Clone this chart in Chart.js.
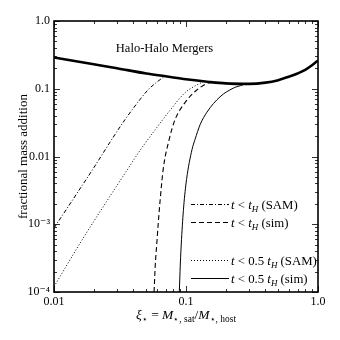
<!DOCTYPE html>
<html>
<head>
<meta charset="utf-8">
<script src="https://cdn.jsdelivr.net/npm/chart.js@4.4.1/dist/chart.umd.min.js"></script>
<style>
  html, body { margin: 0; background: #fff; }
</style>
</head>
<body>
<canvas id="grafico" width="340" height="340"></canvas>
<script>
// valores
const haloX = [0.01, 0.02, 0.03, 0.05, 0.07, 0.1, 0.15, 0.2, 0.3, 0.4, 0.5, 0.6, 0.7, 0.8, 0.9, 1.0];
const haloY = [0.29, 0.23, 0.201, 0.168, 0.153, 0.138, 0.126, 0.12, 0.118, 0.123, 0.134, 0.15, 0.168, 0.19, 0.222, 0.262];

const samTHX = [0.01, 0.015, 0.02, 0.027, 0.0345, 0.045, 0.052, 0.06, 0.068];
const samTHY = [0.00088, 0.0029, 0.0068, 0.0171, 0.035, 0.07, 0.098, 0.125, 0.15];

const simTHX = [0.0573, 0.0585, 0.06, 0.062, 0.0636, 0.0672, 0.0745, 0.0826, 0.098, 0.12, 0.152, 0.17];
const simTHY = [0.0001, 0.00025, 0.0005, 0.0012, 0.0022, 0.0065, 0.0178, 0.035, 0.062, 0.095, 0.123, 0.125];

const samHalfX = [0.01, 0.0166, 0.025, 0.035, 0.045, 0.0603, 0.075, 0.098, 0.115, 0.135];
const samHalfY = [0.00012, 0.00062, 0.00216, 0.0059, 0.0124, 0.027, 0.047, 0.087, 0.108, 0.127];

const simHalfX = [0.089, 0.0905, 0.0925, 0.096, 0.101, 0.111, 0.117, 0.128, 0.144, 0.181, 0.228, 0.27];
const simHalfY = [0.0001, 0.00025, 0.0006, 0.0018, 0.0046, 0.0126, 0.0178, 0.0296, 0.045, 0.076, 0.102, 0.114];

const xMajor = [0.01, 0.1, 1];
const xLabels = ['0.01', '0.1', '1.0'];
const yMajor = [0.0001, 0.001, 0.01, 0.1, 1];
const yLabels = ['10\u207B\u2074', '10\u207B\u00B3', '0.01', '0.1', '1.0'];

const serif = '"Liberation Serif", "DejaVu Serif", serif';

function pontos(xs, ys) {
  return xs.map((x, i) => ({ x: x, y: ys[i] }));
}

function ticksLog(lo, hi) {
  let t = [];
  for (let d = lo; d < hi * 0.999; d *= 10) {
    for (let k = 1; k < 10; k++) t.push(+(d * k).toPrecision(3));
  }
  t.push(hi);
  return t;
}

function ehMaior(v, lista) {
  return lista.some(m => Math.abs(Math.log10(v) - Math.log10(m)) < 1e-6);
}

// texto com itálico e subscrito
function textoRico(ctx, partes, x, y, tam) {
  let cx = x;
  partes.forEach(p => {
    const s = p.sub ? tam * 0.7 : tam;
    ctx.font = (p.it ? 'italic ' : '') + s + 'px ' + serif;
    ctx.fillText(p.t, cx, y + (p.sub ? tam * 0.25 : 0));
    cx += ctx.measureText(p.t).width;
  });
  return cx - x;
}

function larguraRica(ctx, partes, tam) {
  let w = 0;
  partes.forEach(p => {
    const s = p.sub ? tam * 0.7 : tam;
    ctx.font = (p.it ? 'italic ' : '') + s + 'px ' + serif;
    w += ctx.measureText(p.t).width;
  });
  return w;
}

const datasets = [
  { label: 'Halo-Halo', data: pontos(haloX, haloY), borderColor: '#000', borderWidth: 2.6 },
  { label: 't < tH (SAM)', data: pontos(samTHX, samTHY), borderColor: '#000', borderWidth: 1, borderDash: [4, 2, 1, 2] },
  { label: 't < tH (sim)', data: pontos(simTHX, simTHY), borderColor: '#000', borderWidth: 1.1, borderDash: [5, 3] },
  { label: 't < 0.5 tH (SAM)', data: pontos(samHalfX, samHalfY), borderColor: '#000', borderWidth: 1, borderDash: [1, 2] },
  { label: 't < 0.5 tH (sim)', data: pontos(simHalfX, simHalfY), borderColor: '#000', borderWidth: 1 }
];

const legendaItens = [
  { ds: 1, y: 204, partes: [{ t: 't', it: true }, { t: ' < ' }, { t: 't', it: true }, { t: 'H', it: true, sub: true }, { t: ' (SAM)' }] },
  { ds: 2, y: 222, partes: [{ t: 't', it: true }, { t: ' < ' }, { t: 't', it: true }, { t: 'H', it: true, sub: true }, { t: ' (sim)' }] },
  { ds: 3, y: 260, partes: [{ t: 't', it: true }, { t: ' < 0.5 ' }, { t: 't', it: true }, { t: 'H', it: true, sub: true }, { t: ' (SAM)' }] },
  { ds: 4, y: 278, partes: [{ t: 't', it: true }, { t: ' < 0.5 ' }, { t: 't', it: true }, { t: 'H', it: true, sub: true }, { t: ' (sim)' }] }
];

const extras = {
  id: 'extras',
  afterDatasetsDraw(chart) {
    const ctx = chart.ctx;
    const a = chart.chartArea;
    const sx = chart.scales.x, sy = chart.scales.y;
    ctx.save();
    ctx.strokeStyle = '#000';
    ctx.fillStyle = '#000';

    // ticks para dentro nos quatro lados
    ctx.lineWidth = 0.8;
    sx.ticks.forEach(t => {
      const px = Math.round(sx.getPixelForValue(t.value)) + 0.5;
      const L = ehMaior(t.value, xMajor) ? 6 : 3;
      ctx.beginPath();
      ctx.moveTo(px, a.bottom); ctx.lineTo(px, a.bottom - L);
      ctx.moveTo(px, a.top); ctx.lineTo(px, a.top + L);
      ctx.stroke();
    });
    sy.ticks.forEach(t => {
      const py = Math.round(sy.getPixelForValue(t.value)) + 0.5;
      const L = ehMaior(t.value, yMajor) ? 6 : 3;
      ctx.beginPath();
      ctx.moveTo(a.left, py); ctx.lineTo(a.left + L, py);
      ctx.moveTo(a.right, py); ctx.lineTo(a.right - L, py);
      ctx.stroke();
    });

    // moldura
    ctx.lineWidth = 1.6;
    ctx.strokeRect(a.left, a.top, a.right - a.left, a.bottom - a.top);

    // título interno
    ctx.textBaseline = 'alphabetic';
    ctx.font = '12.5px ' + serif;
    ctx.textAlign = 'center';
    ctx.fillText('Halo-Halo Mergers', 164.5, 52);

    // legenda
    ctx.textAlign = 'left';
    legendaItens.forEach(item => {
      const ds = chart.data.datasets[item.ds];
      ctx.save();
      ctx.lineWidth = ds.borderWidth;
      ctx.setLineDash(ds.borderDash || []);
      ctx.beginPath();
      ctx.moveTo(191, item.y + 0.5);
      ctx.lineTo(229, item.y + 0.5);
      ctx.stroke();
      ctx.restore();
      textoRico(ctx, item.partes, 231, item.y + 4.5, 12.8);
    });

    // título do eixo x
    const partesX = [
      { t: '\u03BE', it: true }, { t: '\u22C6', sub: true }, { t: ' = ' },
      { t: 'M', it: true }, { t: '\u22C6, sat', sub: true }, { t: '/' },
      { t: 'M', it: true }, { t: '\u22C6, host', sub: true }
    ];
    const w = larguraRica(ctx, partesX, 13.5);
    textoRico(ctx, partesX, (a.left + a.right) / 2 - w / 2, 319, 13.5);
    ctx.restore();
  }
};

new Chart(document.getElementById('grafico'), {
  type: 'line',
  data: { datasets: datasets },
  options: {
    responsive: false,
    animation: false,
    layout: { padding: { left: 0, top: 21, right: 22, bottom: 0 } },
    elements: {
      point: { radius: 0 },
      line: { fill: false, cubicInterpolationMode: 'monotone' }
    },
    plugins: { legend: { display: false }, tooltip: { enabled: false } },
    scales: {
      x: {
        type: 'logarithmic',
        min: 0.01,
        max: 1,
        afterBuildTicks: s => { s.ticks = ticksLog(0.01, 1).map(v => ({ value: v })); },
        afterFit: s => { s.height = 48; },
        grid: { display: false, drawTicks: false },
        border: { display: false },
        ticks: {
          autoSkip: false,
          maxRotation: 0,
          padding: 3,
          color: '#000',
          font: { family: serif, size: 12 },
          callback: (v) => {
            const i = xMajor.findIndex(m => ehMaior(v, [m]));
            return i >= 0 ? xLabels[i] : '';
          }
        }
      },
      y: {
        type: 'logarithmic',
        min: 0.0001,
        max: 1,
        afterBuildTicks: s => { s.ticks = ticksLog(0.0001, 1).map(v => ({ value: v })); },
        afterFit: s => { s.width = 54; },
        grid: { display: false, drawTicks: false },
        border: { display: false },
        title: {
          display: true,
          text: 'fractional mass addition',
          color: '#000',
          font: { family: serif, size: 13 },
          padding: { top: 16, bottom: 0 }
        },
        ticks: {
          autoSkip: false,
          padding: 4,
          color: '#000',
          font: { family: serif, size: 12 },
          callback: (v) => {
            const i = yMajor.findIndex(m => ehMaior(v, [m]));
            return i >= 0 ? yLabels[i] : '';
          }
        }
      }
    }
  },
  plugins: [extras]
});
</script>
</body>
</html>
